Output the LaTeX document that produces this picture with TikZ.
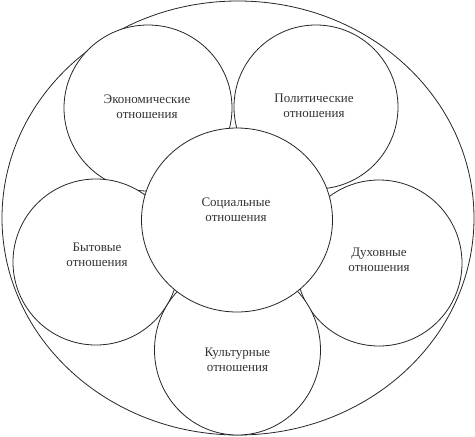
\documentclass[tikz,border=0pt]{standalone}
\usepackage{fontspec}
\setmainfont{Liberation Serif}
\usetikzlibrary{shapes.geometric}
\begin{document}
\begin{tikzpicture}[x=1pt,y=-1pt,
  ring/.style={draw=black!85,line width=0.8pt,fill=white,ellipse,inner sep=0pt},
  lbl/.style={align=center,font=\fontsize{13}{15.5}\selectfont,text=black!80,inner sep=0pt}]
\useasboundingbox (0,0) rectangle (475,437);
\node[ring,minimum width=472,minimum height=434] (outer) at (238,218) {};
\node[ring,minimum width=168,minimum height=166] (eco) at (148,108) {};
\node[ring,minimum width=164,minimum height=164] (pol) at (316,107) {};
\node[ring,minimum width=166,minimum height=166] (byt) at (96,262) {};
\node[ring,minimum width=166,minimum height=166] (dukh) at (379,263) {};
\node[ring,minimum width=166,minimum height=170] (kult) at (237.5,350) {};
\node[ring,minimum width=191,minimum height=184] (soc) at (237,220) {};
\node[lbl] (teco) at (147,107) {Экономические\\отношения};
\node[lbl] (tpol) at (314,106) {Политические\\отношения};
\node[lbl] (tsoc) at (236,210) {Социальные\\отношения};
\node[lbl] (tbyt) at (97,255) {Бытовые\\отношения};
\node[lbl] (tdukh) at (379,260) {Духовные\\отношения};
\node[lbl] (tkult) at (237.5,360) {Культурные\\отношения};
\end{tikzpicture}
\end{document}
